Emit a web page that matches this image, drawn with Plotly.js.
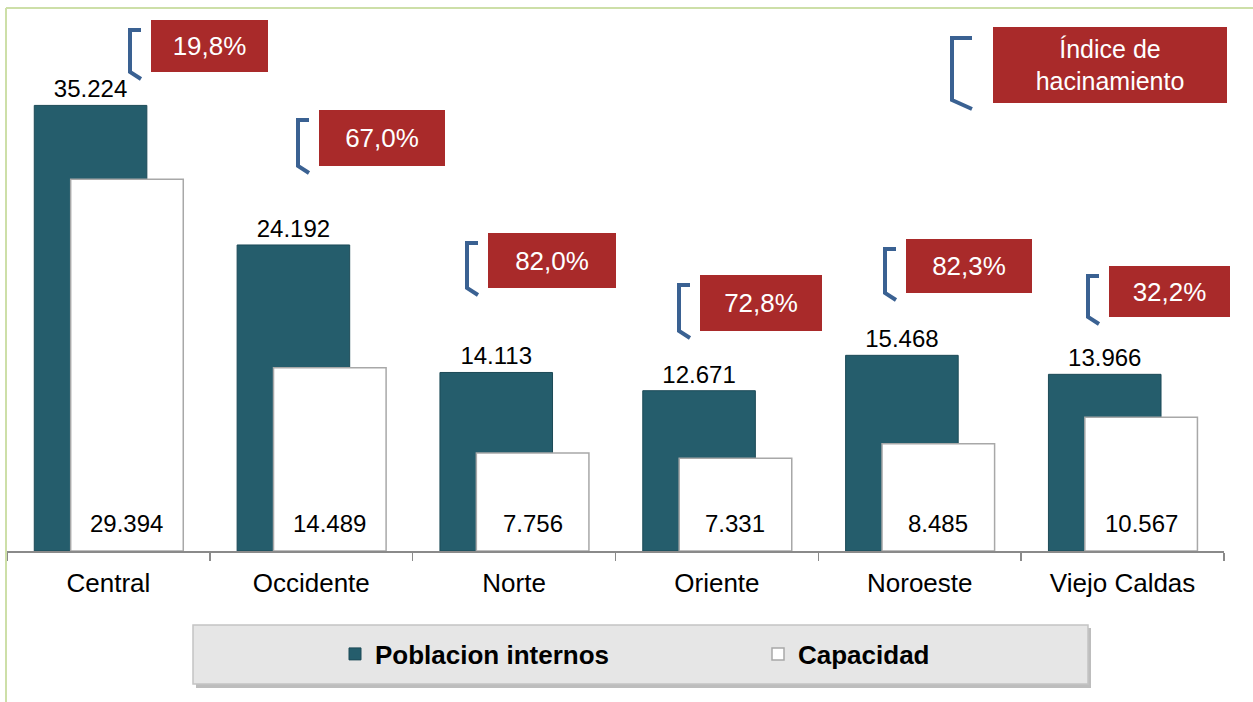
<!DOCTYPE html>
<html>
<head>
<meta charset="utf-8">
<script src="https://cdn.plot.ly/plotly-3.0.1.min.js"></script>
<style>
  html, body { margin: 0; padding: 0; background: #ffffff; }
  #chart { width: 1253px; height: 702px; }
</style>
</head>
<body>
<div id="chart"></div>
<script>
// ---- data ----
const categories = ['Central', 'Occidente', 'Norte', 'Oriente', 'Noroeste', 'Viejo Caldas'];
const poblacion = [35224, 24192, 14113, 12671, 15468, 13966];
const capacidad = [29394, 14489, 7756, 7331, 8485, 10567];
const hacinamiento = ['19,8%', '67,0%', '82,0%', '72,8%', '82,3%', '32,2%'];
const seriesNames = ['Poblacion internos', 'Capacidad'];
const indiceTitle = 'Índice de<br>hacinamiento';

// ---- layout geometry (pixels) ----
const W = 1253, H = 702;
const M = { l: 7, r: 29, t: 20, b: 151 };
const plotW = W - M.l - M.r, plotH = H - M.t - M.b;
const px = X => (X - M.l) / plotW;
const py = Y => (H - M.b - Y) / plotH;

// red boxes (left, top, width, height) in pixels
const boxLeft = [151, 319, 488, 700, 906, 1109];
const boxTop = [20, 110, 233, 275, 239, 266];
const boxW = [117, 126, 128, 122, 126, 121];
const boxH = [52, 56, 55, 56, 54, 51];
const keyBox = { l: 993, t: 24, w: 234, h: 76 };

const FONT = 'Arial, "Liberation Sans", sans-serif';
const RED = '#a92a2a';
const BLUE = '#3a6192';

const BAR_W = 0.555, OFF_POB = -0.3655, OFF_CAP = -0.186;

const idx = categories.map((_, i) => i);
const fmt = v => String(v).replace(/\B(?=(\d{3})+(?!\d))/g, '.');

const traces = [
  {
    type: 'bar', name: seriesNames[0], x: idx, y: poblacion,
    width: BAR_W, offset: OFF_POB,
    marker: { color: '#255d6c', line: { color: '#1c4a57', width: 1 } },
    texttemplate: '%{y:,}', textposition: 'outside', cliponaxis: false,
    textfont: { family: FONT, size: 24, color: '#000' },
    hoverinfo: 'skip'
  },
  {
    type: 'bar', name: seriesNames[1], x: idx, y: capacidad,
    width: BAR_W, offset: OFF_CAP,
    marker: { color: '#ffffff', line: { color: '#a8a8a8', width: 1.5 } },
    textposition: 'none',
    hoverinfo: 'skip'
  }
];

const annotations = [];
const shapes = [];

// Capacidad value labels, sitting near the base of each white bar
capacidad.forEach((v, i) => {
  annotations.push({
    xref: 'x', yref: 'y', x: i + OFF_CAP + BAR_W / 2, y: 0,
    xanchor: 'center', yanchor: 'bottom', yshift: 12,
    text: fmt(v), showarrow: false,
    font: { family: FONT, size: 24, color: '#000' }
  });
});

// outer light-green border (top and left)
shapes.push({ type: 'line', xref: 'paper', yref: 'paper', x0: px(6), x1: px(1253), y0: py(8), y1: py(8), line: { color: '#cddfa8', width: 2 } });
shapes.push({ type: 'line', xref: 'paper', yref: 'paper', x0: px(6), x1: px(6), y0: py(8), y1: py(702), line: { color: '#cddfa8', width: 2 } });

// legend panel
shapes.push({ type: 'rect', xref: 'paper', yref: 'paper', layer: 'below', x0: px(196), x1: px(1091), y0: py(628), y1: py(688), fillcolor: '#bdbdbd', line: { width: 0 } });
shapes.push({ type: 'rect', xref: 'paper', yref: 'paper', layer: 'below', x0: px(193), x1: px(1088), y0: py(625), y1: py(684), fillcolor: '#e6e6e6', line: { color: '#c4c4c4', width: 1.5 } });

function bracket(L, T, Hh, dx1, dx2, dTop, dBot) {
  const xr = L - dx1, xl = L - dx2;
  const yt = T + dTop, yv = T + Hh, yb = T + Hh + dBot;
  return {
    type: 'path', xref: 'paper', yref: 'paper',
    path: `M ${px(xr)} ${py(yt)} L ${px(xl)} ${py(yt)} L ${px(xl)} ${py(yv)} L ${px(xr)} ${py(yb)}`,
    line: { color: BLUE, width: 4 }
  };
}

hacinamiento.forEach((txt, i) => {
  annotations.push({
    xref: 'paper', yref: 'paper', x: px(boxLeft[i]), y: py(boxTop[i]),
    xanchor: 'left', yanchor: 'top', width: boxW[i], height: boxH[i],
    text: txt, showarrow: false, bgcolor: RED, borderpad: 0, borderwidth: 0,
    align: 'center', valign: 'middle',
    font: { family: FONT, size: 26, color: '#ffffff' }
  });
  shapes.push(bracket(boxLeft[i], boxTop[i], boxH[i], 10, 21, 10, 7));
});

// key box
annotations.push({
  xref: 'paper', yref: 'paper', x: px(keyBox.l), y: py(keyBox.t),
  xanchor: 'left', yanchor: 'top', width: keyBox.w, height: keyBox.h,
  text: indiceTitle, showarrow: false, bgcolor: RED, borderpad: 0, borderwidth: 0,
  align: 'center', valign: 'middle', yshift: -3,
  font: { family: FONT, size: 25, color: '#ffffff' }
});
shapes.push(bracket(keyBox.l, keyBox.t, keyBox.h, 21, 41, 14, 9));

const layout = {
  width: W, height: H,
  margin: M,
  paper_bgcolor: '#ffffff', plot_bgcolor: '#ffffff',
  separators: ',.',
  barmode: 'overlay',
  showlegend: true,
  font: { family: FONT, color: '#000' },
  xaxis: {
    type: 'linear', range: [-0.5, 5.5], fixedrange: true,
    tickmode: 'array', tickvals: idx, ticktext: categories,
    ticks: '', showgrid: false, zeroline: false,
    showline: true, linecolor: '#8a8a8a', linewidth: 1.5,
    ticklabelstandoff: 8,
    tickfont: { family: FONT, size: 26, color: '#000' },
    minor: { tickmode: 'array', tickvals: [-0.5, 0.5, 1.5, 2.5, 3.5, 4.5, 5.5], ticks: 'outside', ticklen: 8, tickwidth: 1.5, tickcolor: '#8a8a8a', showgrid: false }
  },
  yaxis: { range: [0, 41976], visible: false, showgrid: false, zeroline: false, fixedrange: true },
  legend: {
    orientation: 'h', xref: 'paper', yref: 'paper',
    x: px(335), y: py(654), xanchor: 'left', yanchor: 'middle',
    bgcolor: 'rgba(0,0,0,0)', borderwidth: 0,
    entrywidth: 378, entrywidthmode: 'pixels',
    font: { family: FONT, size: 26, color: '#000', weight: 'bold' }
  },
  annotations: annotations,
  shapes: shapes
};

Plotly.newPlot('chart', traces, layout, { displayModeBar: false, staticPlot: true });
</script>
</body>
</html>
